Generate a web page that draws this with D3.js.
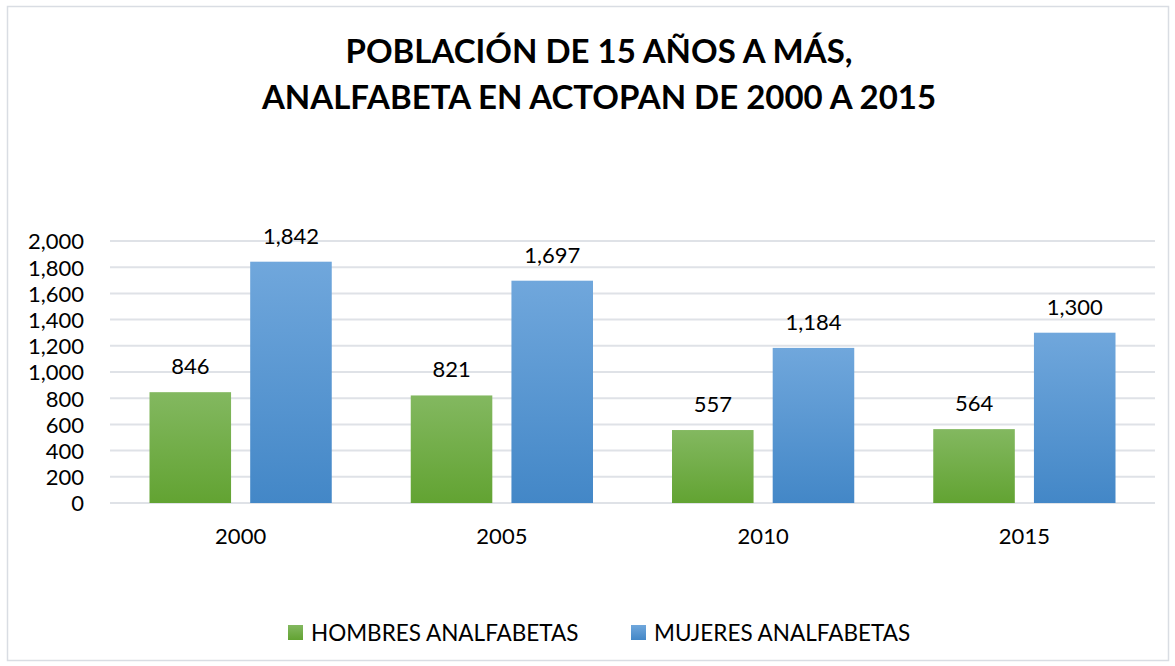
<!DOCTYPE html>
<meta charset="utf-8">
<style>
  body { margin: 0; background: #fff; }
  text { font-family: Lato, "Open Sans", sans-serif; fill: #000; }
  .title { font-size: 33px; font-weight: bold; }
  .tick text { font-size: 22px; }
  .lbl { font-size: 22px; }
  .legend text { font-size: 22.5px; }
</style>
<svg width="1175" height="666"></svg>
<script src="https://d3js.org/d3.v7.min.js"></script>
<script>
var years = ["2000", "2005", "2010", "2015"];
var hombres = [846, 821, 557, 564];
var mujeres = [1842, 1697, 1184, 1300];
var seriesNames = ["HOMBRES ANALFABETAS", "MUJERES ANALFABETAS"];
var yTicks = [0, 200, 400, 600, 800, 1000, 1200, 1400, 1600, 1800, 2000];

var svg = d3.select("svg");
var fmt = d3.format(",");

// outer frame
svg.append("rect")
    .attr("x", 7.5).attr("y", 6.5)
    .attr("width", 1161).attr("height", 654)
    .attr("fill", "#fff")
    .attr("stroke", "#d9dde3")
    .attr("stroke-width", 1.5);

var defs = svg.append("defs");
function grad(id, c1, c2) {
  var g = defs.append("linearGradient").attr("id", id)
      .attr("x1", 0).attr("y1", 0).attr("x2", 0).attr("y2", 1);
  g.append("stop").attr("offset", "0%").attr("stop-color", c1);
  g.append("stop").attr("offset", "100%").attr("stop-color", c2);
}
grad("gGreen", "#83b860", "#62a332");
grad("gBlue", "#70a7dc", "#4387c7");
var fills = ["url(#gGreen)", "url(#gBlue)"];

svg.append("text").attr("class", "title")
    .attr("x", 599).attr("y", 63).attr("text-anchor", "middle")
    .text("POBLACIÓN DE 15 AÑOS A MÁS,");
svg.append("text").attr("class", "title")
    .attr("x", 599).attr("y", 109).attr("text-anchor", "middle")
    .text("ANALFABETA EN ACTOPAN DE 2000 A 2015");

var plotL = 110, plotR = 1155, plotT = 241, plotB = 503;

var x = d3.scaleBand().domain(years).range([plotL, plotR]).paddingInner(0).paddingOuter(0);
var x1 = d3.scaleBand().domain([0, 1]).range([39.5, x.bandwidth() - 39.5]).paddingInner(0.19);
var y = d3.scaleLinear().domain([0, 2000]).range([plotB, plotT]);

// gridlines
svg.append("g")
  .selectAll("line")
  .data(yTicks)
  .enter().append("line")
    .attr("x1", plotL).attr("x2", plotR)
    .attr("y1", function(d) { return y(d); })
    .attr("y2", function(d) { return y(d); })
    .attr("stroke", "#dfe2e7")
    .attr("stroke-width", 2);

var yAxis = svg.append("g")
    .attr("transform", "translate(" + 84 + ",0)")
    .call(d3.axisLeft(y).tickValues(yTicks).tickFormat(fmt).tickSize(0).tickPadding(0));
yAxis.select(".domain").remove();
yAxis.selectAll("text").attr("dy", "0.36em");

var xAxis = svg.append("g")
    .attr("transform", "translate(0," + plotB + ")")
    .call(d3.axisBottom(x).tickSize(0).tickPadding(25));
xAxis.select(".domain").remove();
xAxis.selectAll("text").attr("dy", "0.71em");

var rows = years.map(function(yr, i) { return [hombres[i], mujeres[i]]; });

var groups = svg.append("g").selectAll("g")
    .data(rows)
    .enter().append("g")
    .attr("transform", function(d, i) { return "translate(" + x(years[i]) + ",0)"; });

groups.selectAll("rect")
    .data(function(d) { return d; })
    .enter().append("rect")
    .attr("x", function(d, j) { return x1(j); })
    .attr("width", x1.bandwidth())
    .attr("y", function(d) { return y(d); })
    .attr("height", function(d) { return plotB - y(d); })
    .attr("fill", function(d, j) { return fills[j]; });

groups.selectAll("text.lbl")
    .data(function(d) { return d; })
    .enter().append("text")
    .attr("class", "lbl")
    .attr("x", function(d, j) { return x1(j) + x1.bandwidth() / 2; })
    .attr("y", function(d) { return y(d) - 18; })
    .attr("text-anchor", "middle")
    .text(function(d) { return fmt(d); });

// legend
var legX = [288, 631];
var legend = svg.append("g").attr("class", "legend")
  .selectAll("g")
  .data(seriesNames)
  .enter().append("g")
  .attr("transform", function(d, i) { return "translate(" + legX[i] + ",625)"; });
legend.append("rect")
    .attr("width", 15).attr("height", 15)
    .attr("fill", function(d, i) { return fills[i]; });
legend.append("text")
    .attr("x", 23).attr("y", 16)
    .text(function(d) { return d; });
</script>
